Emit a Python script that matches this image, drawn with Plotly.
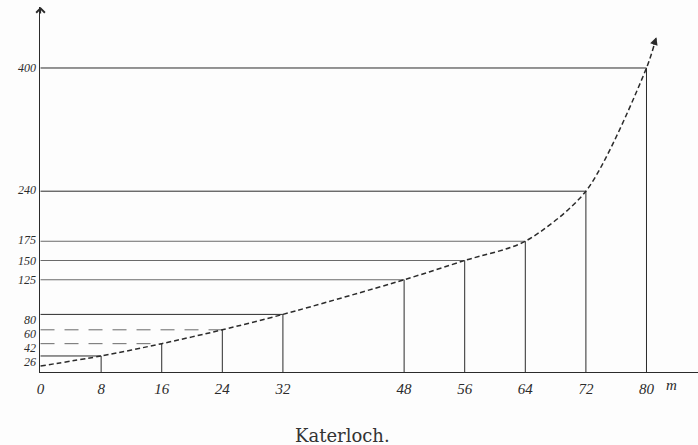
import plotly.graph_objects as go

# ---- data ----
x_vals = [0, 8, 16, 24, 32, 48, 56, 64, 72, 80]
y_vals = [13, 26, 42, 60, 80, 125, 150, 175, 240, 400]
x_ticks = [0, 8, 16, 24, 32, 48, 56, 64, 72, 80]
x_ticktext = ["0", "8", "16", "24", "32", "48", "56", "64", "72", "80"]
y_ticks = [26, 42, 60, 80, 125, 150, 175, 240, 400]
y_ticktext = ["26", "42", "60", "80", "125", "150", "175", "240", "400"]
arrow_tip = (81.3, 440)
title_text = "Katerloch."
unit_text = "m"

# ---- styling ----
Y_MIN, Y_MAX = 5.2, 479.2
X_MIN, X_MAX = -0.07, 86.8
y_label_shift = [-6, -4, -4, -6, 0, 0, 1, 1, 0]   # px, label offsets as printed

INK = "#2b2b2b"
FAINT = "#6a6a6a"

fig = go.Figure()

# guide lines (horizontal from axis to point, vertical from base to point)
strong = {26, 80, 240, 400}
for xv, yv in zip(x_vals[1:], y_vals[1:]):
    faint = yv not in strong
    dash = "14px,10px" if yv in (42, 60) else "solid"
    fig.add_trace(go.Scatter(
        x=[0, xv], y=[yv, yv], mode="lines",
        line=dict(color=FAINT if faint else INK, width=1, dash=dash),
        hoverinfo="skip", showlegend=False))
    fig.add_trace(go.Scatter(
        x=[xv, xv], y=[Y_MIN, yv], mode="lines",
        line=dict(color=INK, width=1),
        hoverinfo="skip", showlegend=False))

# dashed curve
fig.add_trace(go.Scatter(
    x=x_vals + [arrow_tip[0]], y=y_vals + [arrow_tip[1]], mode="lines",
    line=dict(color=INK, width=1.5, dash="5px,3px", shape="spline", smoothing=0.8),
    hoverinfo="skip", showlegend=False))

# curve arrowhead
fig.add_annotation(x=arrow_tip[0], y=arrow_tip[1], ax=-3, ay=9, xref="x", yref="y",
                   showarrow=True, arrowhead=2, arrowsize=1.3, arrowwidth=1.2,
                   arrowcolor=INK, text="")
# y-axis arrowhead
fig.add_annotation(x=0, y=Y_MAX, ax=0, ay=8, xref="x", yref="y",
                   showarrow=True, arrowhead=4, arrowsize=1.4, arrowwidth=1.2,
                   arrowcolor=INK, text="")

# y labels (printed slightly off their lines in the original)
for v, t, s in zip(y_ticks, y_ticktext, y_label_shift):
    fig.add_annotation(x=0, y=v, xref="x", yref="y", text=t, showarrow=False,
                       xanchor="right", yanchor="middle", xshift=-4, yshift=s,
                       borderpad=0,
                       font=dict(family="Liberation Serif", size=12, color=INK,
                                 style="italic"))

# unit label
fig.add_annotation(x=83.3, y=Y_MIN, yshift=-13, xref="x", yref="y", text=unit_text,
                   showarrow=False,
                   font=dict(family="Liberation Serif", size=15, color=INK, style="italic"),
                   xanchor="center", yanchor="middle")
# title
fig.add_annotation(x=0.46, y=-0.173, xref="paper", yref="paper", yanchor="middle",
                   xanchor="center", text=title_text, showarrow=False,
                   font=dict(family="DejaVu Serif", size=18, color="#333333"))

fig.update_xaxes(range=[X_MIN, X_MAX], tickvals=x_ticks, ticktext=x_ticktext,
                 showgrid=False, zeroline=False, showline=True, linecolor=INK, linewidth=1,
                 ticks="", ticklabelstandoff=3,
                 tickfont=dict(family="Liberation Serif", size=15, color=INK,
                               style="italic"))
fig.update_yaxes(range=[Y_MIN, Y_MAX], showgrid=False, zeroline=False,
                 showline=True, linecolor=INK, linewidth=1.2,
                 ticks="", showticklabels=False)

fig.update_layout(width=698, height=445, margin=dict(l=40, r=0, t=7, b=73),
                  paper_bgcolor="#fdfdfd", plot_bgcolor="#fdfdfd")

fig.write_html("out.html", config={"displayModeBar": False},
               post_script="document.body.style.margin='0px';"
                           "document.body.style.overflow='hidden';")
